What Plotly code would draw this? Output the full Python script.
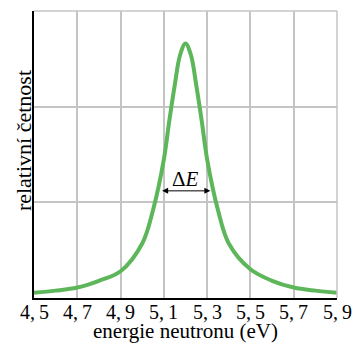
import plotly.graph_objects as go

# Neutron energy (eV) and relative frequency of the resonance peak
energy = [4.5, 4.6, 4.7, 4.8, 4.9, 5.0, 5.05, 5.1, 5.125, 5.15, 5.175, 5.2,
          5.225, 5.25, 5.275, 5.3, 5.35, 5.4, 5.5, 5.6, 5.7, 5.8, 5.9]
frequency = [0.055, 0.077, 0.11, 0.18, 0.28, 0.57, 0.92, 1.45, 1.85, 2.22, 2.54, 2.66,
             2.54, 2.22, 1.85, 1.45, 0.92, 0.57, 0.30, 0.18, 0.11, 0.077, 0.055]

tick_values = [4.5, 4.7, 4.9, 5.1, 5.3, 5.5, 5.7, 5.9]
tick_labels = ["4,\u20095", "4,\u20097", "4,\u20099", "5,\u20091",
               "5,\u20093", "5,\u20095", "5,\u20097", "5,\u20099"]

# Width marker (ΔE) endpoints and level
width_left, width_right, width_level = 5.085, 5.315, 1.12

FONT = "Liberation Serif, Times New Roman, serif"
GRID = "#c4c4c4"

fig = go.Figure()
fig.add_trace(go.Scatter(
    x=energy, y=frequency, mode="lines",
    line=dict(color="#5db65a", width=4, shape="spline", smoothing=1.0),
    hoverinfo="skip", showlegend=False,
))

# double-headed arrow for ΔE
fig.add_annotation(
    x=width_right, y=width_level, ax=width_left, ay=width_level,
    xref="x", yref="y", axref="x", ayref="y",
    text="", showarrow=True, arrowside="end+start",
    arrowhead=2, startarrowhead=2, arrowsize=1.2, startarrowsize=1.2,
    arrowwidth=1, arrowcolor="black",
)
fig.add_annotation(
    x=5.2, y=width_level, xref="x", yref="y",
    text="Δ<i>E</i>", showarrow=False, yanchor="bottom", yshift=-2,
    font=dict(family=FONT, size=21, color="black"),
)

# energy tick labels, set close under the axis line
for tv, tl in zip(tick_values, tick_labels):
    fig.add_annotation(
        x=tv, y=-0.049, xref="x", yref="paper", text=tl, showarrow=False,
        xanchor="center", yanchor="middle",
        font=dict(family=FONT, size=20, color="black"),
    )

# axis titles
fig.add_annotation(
    x=-0.036, y=0.547, xref="paper", yref="paper",
    text="relativní četnost", textangle=-90, showarrow=False,
    xanchor="center", yanchor="middle",
    font=dict(family=FONT, size=22, color="black"),
)
fig.add_annotation(
    x=0.5, y=-0.116, xref="paper", yref="paper",
    text="energie neutronu (eV)", showarrow=False,
    xanchor="center", yanchor="middle",
    font=dict(family=FONT, size=21, color="black"),
)

# grey frame on the top and right sides
fig.add_shape(type="line", xref="paper", yref="paper", x0=0, x1=1, y0=1, y1=1,
              line=dict(color=GRID, width=1.5))
fig.add_shape(type="line", xref="paper", yref="paper", x0=1, x1=1, y0=0, y1=1,
              line=dict(color=GRID, width=1.5))

fig.update_xaxes(
    range=[4.5, 5.9], tickvals=tick_values, showticklabels=False,
    showgrid=True, gridcolor=GRID, gridwidth=1.5,
    showline=True, linecolor="black", linewidth=1.5,
    ticks="", zeroline=False, automargin=False,
)
fig.update_yaxes(
    range=[0, 3], tickvals=[1, 2], showticklabels=False,
    showgrid=True, gridcolor=GRID, gridwidth=1.5,
    showline=True, linecolor="black", linewidth=1.5,
    ticks="", zeroline=False, automargin=False,
)
fig.update_layout(
    width=353, height=343,
    margin=dict(l=34, r=16, t=11, b=45),
    paper_bgcolor="white", plot_bgcolor="white",
    font=dict(family=FONT, color="black"),
)

fig.write_html("out.html")
